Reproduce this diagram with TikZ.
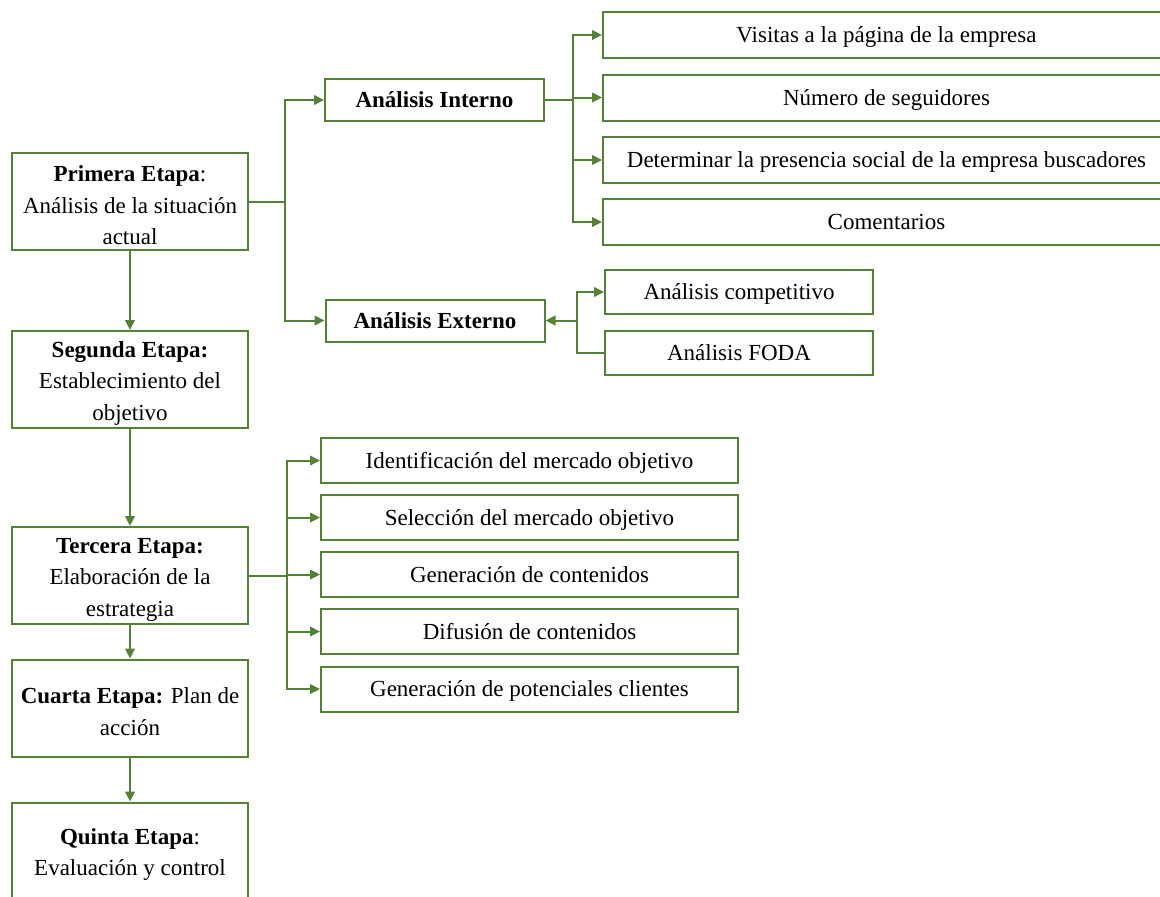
\documentclass[tikz,border=0pt]{standalone}
\usepackage{fontspec}
\setmainfont{Liberation Serif}
\usetikzlibrary{arrows.meta}
\definecolor{verde}{RGB}{84,130,53}
\newcommand{\sube}{\rule{0pt}{11.6pt}}

\begin{document}
\begin{tikzpicture}[x=0.5pt,y=-0.5pt,line width=1pt,draw=verde,
    -{Triangle[length=5pt,width=4.8pt]}]
    \tikzstyle{caja}=[draw=verde,line width=1pt,fill=white,inner sep=0pt,
        text height=10.2pt,text depth=2.5pt,font=\fontsize{11.5}{15.8}\selectfont]
    \tikzstyle{etapa}=[caja,text height=,text depth=,align=center,
        minimum width=118pt,minimum height=48.5pt]
    \tikzstyle{analisis}=[caja,minimum width=109.5pt,minimum height=21pt]
    \tikzstyle{interno}=[caja,minimum width=283.5pt,minimum height=23pt]
    \tikzstyle{externo}=[caja,minimum width=134pt,minimum height=22pt]
    \tikzstyle{estrategia}=[caja,minimum width=208.5pt,minimum height=22.5pt]

    \useasboundingbox (0,0) rectangle (1160,896);

    % etapas
    \node[etapa] (E-1) at (130,201.5) {\sube\textbf{Primera Etapa}:\\Análisis de la situación\\actual};
    \node[etapa] (E-2) at (130,379.5) {\sube\textbf{Segunda Etapa:}\\Establecimiento del\\objetivo};
    \node[etapa] (E-3) at (130,575.5) {\sube\textbf{Tercera Etapa:}\\Elaboración de la\\estrategia};
    \node[etapa] (E-4) at (130,708) {\sube\textbf{Cuarta Etapa:} Plan de\\acción};
    \node[etapa] (E-5) at (130,851) {\sube\textbf{Quinta Etapa}:\\Evaluación y control};
    \foreach \source / \dest in {1/2,2/3,3/4,4/5}
        \path (E-\source) edge (E-\dest);

    % analisis
    \node[analisis] (AI) at (434.5,100) {\textbf{Análisis Interno}};
    \node[analisis] (AE) at (435,320.5) {\textbf{Análisis Externo}};
    \coordinate (J-1) at (285,201.5);
    \draw[-] (E-1.east) -- (J-1);
    \draw (J-1) |- (AI.west);
    \draw (J-1) |- (AE.west);

    % analisis interno
    \foreach \name / \y / \texto in {1/35/Visitas a la página de la empresa,
            2/97.5/Número de seguidores,
            3/160/Determinar la presencia social de la empresa buscadores,
            4/222/Comentarios}
        \node[interno] (I-\name) at (886.5,\y) {\texto};
    \coordinate (J-2) at (573,100);
    \draw[-] (AI.east) -- (J-2);
    \foreach \dest in {1,...,4}
        \draw (J-2) |- (I-\dest.west);

    % analisis externo
    \node[externo] (X-1) at (739,292) {Análisis competitivo};
    \node[externo] (X-2) at (739,353) {Análisis FODA};
    \coordinate (J-3) at (577,320.5);
    \draw (J-3) -- (AE.east);
    \draw (J-3) |- (X-1.west);
    \draw[-] (J-3) |- (X-2.west);

    % estrategia
    \foreach \name / \y / \texto in {1/460.5/Identificación del mercado objetivo,
            2/517.5/Selección del mercado objetivo,
            3/574.5/Generación de contenidos,
            4/631.5/Difusión de contenidos,
            5/689/Generación de potenciales clientes}
        \node[estrategia] (T-\name) at (529.5,\y) {\texto};
    \coordinate (J-4) at (287,575.5);
    \draw[-] (E-3.east) -- (J-4);
    \foreach \dest in {1,...,5}
        \draw (J-4) |- (T-\dest.west);
\end{tikzpicture}
\end{document}
